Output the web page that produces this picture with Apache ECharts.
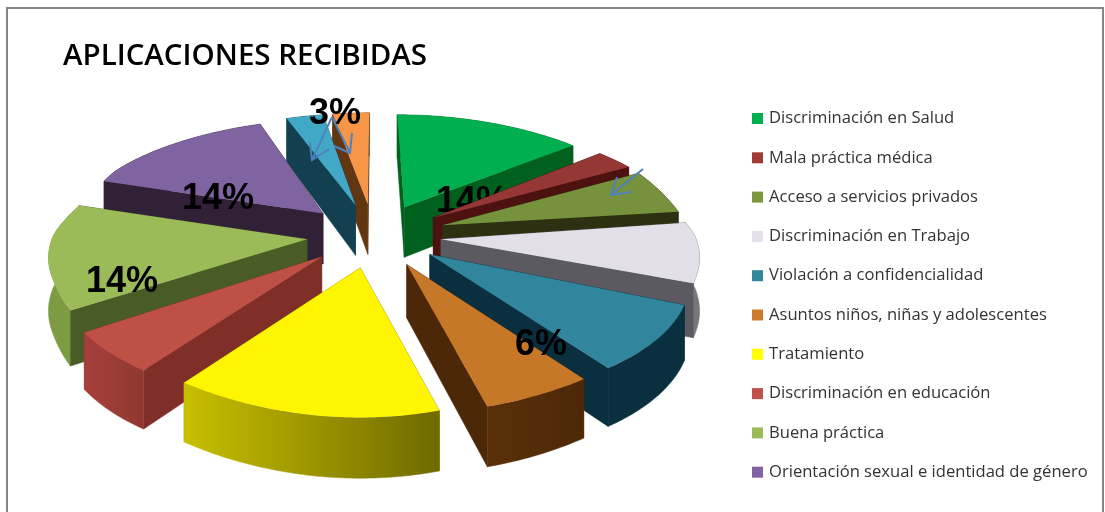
<!DOCTYPE html>
<html><head><meta charset="utf-8">
<style>html,body{margin:0;padding:0;background:#fff}#c{width:1105px;height:512px}</style>
<script src="https://cdn.jsdelivr.net/npm/echarts@6/dist/echarts.min.js"></script>
</head><body><div id="c"></div>
<script>
const title = 'APLICACIONES RECIBIDAS';
const categories = ['Discriminación en Salud','Mala práctica médica','Acceso a servicios privados','Discriminación en Trabajo','Violación a confidencialidad','Asuntos niños, niñas y adolescentes','Tratamiento','Discriminación en educación','Buena práctica','Orientación sexual e identidad de género','Otros A','Otros B'];
const legendNames = categories.slice(0, 10);
const values = [5,1,2,3,3,2.3,5.7,2,5,5,1,1];
const topColors = ['#00B050','#953735','#76923C','#E2DFE8','#31859C','#C77728','#FFF500','#BE5046','#9BBB59','#8064A2','#41A9C6','#F79646'];
const legendColors = ['#00B050','#A23B38','#7D973E','#E6E0EC','#31859C','#CC7A2B','#FFFF00','#C0504D','#9BBB59','#8064A2','#41A9C6','#F79646'];
const wallColors = ['#00601E','#4D1210','#2D3112','#5B5A60','#0A303F','#4D2808','#8A8500','#7F2F28','#4A5C26','#312136','#124050','#623610'];
const outerLeft = ['#00601E','#4D1210','#2D3112','#7A7A80','#0A303F','#5A3008','#C8C000','#A6403C','#7C9B42','#312136','#124050','#623610'];
const outerRight = ['#00601E','#4D1210','#2D3112','#75757B','#0A303F','#4D2808','#6F6A00','#8F3830','#7C9B42','#312136','#124050','#623610'];
// label anchors: slice index -> screen position
const labelSlices = [0,5,8,9,10];
const labelAnchors = {0:[472,202],5:[541,345],8:[122,282],9:[218,199],10:[335,114]};

const CX=374, CY=236.5, RX=258, RY=118, K=0.16, EXPLODE=0.26;
const total = values.reduce((a,b)=>a+b,0);
const rad = d=>d*Math.PI/180;
function project(u,v,down,isApex){
  const s=1/(1-K*v);
  let sx=1+.11*v-.03*v*v-(v>0?.02*v*v*v:0);
  let c=0;
  if(v>.25){const t=Math.min(1,(v-.25)/.3),ramp=t*t*(3-2*t);c=8*ramp*Math.sin(Math.PI*(v-.25)/.85);}
  if(!isApex){
    sx-=.012*Math.exp(-Math.pow((v+.1)/.35,2));
    if(v<0&&v>-.6)c=5*Math.sin(Math.PI*(v+.6)/.6);
  }
  return [CX+RX*u*sx, CY+RY*v*s+c+(down?52+7*v:0)];
}
function wall(a,b,fill){
  return {type:'polygon',shape:{points:[...a.map(p=>project(p[0],p[1],false,p[2])),...b.slice().reverse().map(p=>project(p[0],p[1],true,p[2]))]},style:{fill:fill,stroke:fill,lineWidth:.5}};
}
function renderSlice(params,api){
  const i=api.value(2), a0=api.value(0), a1=api.value(1), mid=(a0+a1)/2;
  const ox=EXPLODE*Math.sin(rad(mid)), oy=-EXPLODE*Math.cos(rad(mid));
  const arc=[];
  for(let d=a0;d<a1;d+=1){arc.push([ox+Math.sin(rad(d)),oy-Math.cos(rad(d))]);}
  arc.push([ox+Math.sin(rad(a1)),oy-Math.cos(rad(a1))]);
  const back=oy<0?1.1:1;
  const apex=[ox*back,oy*back,true], first=arc[0], last=arc[arc.length-1];
  const meanV=ps=>ps.reduce((s,p)=>s+p[1],0)/ps.length;
  const faces=[
    {v:meanV(arc),el:wall(arc,arc,new echarts.graphic.LinearGradient(0,0,1,0,[{offset:0,color:outerLeft[i]},{offset:1,color:outerRight[i]}]))},
    {v:(apex[1]+first[1])/2,el:wall([apex,first],[apex,first],wallColors[i])},
    {v:(apex[1]+last[1])/2,el:wall([apex,last],[apex,last],wallColors[i])}
  ].sort((p,q)=>p.v-q.v);
  const children=faces.map((f,n)=>{f.el.z2=n;return f.el;});
  children.push({type:'polygon',z2:5,shape:{points:[apex,...arc].map(p=>project(p[0],p[1],false,p[2]))},style:{fill:topColors[i]}});
  if(labelSlices.includes(i)){
    const at=labelAnchors[i];
    children.push({type:'text',z2:6,style:{text:Math.round(values[i]/total*100)+'%',x:at[0],y:at[1],align:'center',verticalAlign:'middle',font:'bold 36px "Liberation Sans"',fill:'#000'}});
  }
  return {type:'group',children:children};
}
let acc=0;
const slices=values.map((v,i)=>{const s=acc/total*360;acc+=v;const e=acc/total*360;
  const m=(s+e)/2;const depth=-Math.cos(rad(m));return {i,s,e,depth};});
const order=slices.slice().sort((a,b)=>a.depth-b.depth).map(x=>x.i);
const series=slices.map(sl=>({
  type:'custom',name:categories[sl.i],coordinateSystem:'none',renderItem:renderSlice,
  z:2+order.indexOf(sl.i),silent:true,animation:false,
  itemStyle:{color:legendColors[sl.i]},
  data:[[sl.s,sl.e,sl.i]]
}));
function arrow(pts,barbs){
  return [{type:'polyline',z:50,silent:true,shape:{points:pts},style:{stroke:'#4F81BD',lineWidth:2,fill:null}},
          {type:'polyline',z:50,silent:true,shape:{points:barbs},style:{stroke:'#4F81BD',lineWidth:2,fill:null}}];
}
const chart=echarts.init(document.getElementById('c'),null,{renderer:'canvas'});
chart.setOption({
  animation:false,
  backgroundColor:'#fff',
  title:{text:title,left:63,top:42,padding:0,textStyle:{fontFamily:'Open Sans',fontWeight:600,fontSize:29.5,color:'#000'}},
  legend:{orient:'vertical',left:747,top:105,data:legendNames,icon:'rect',itemWidth:11,itemHeight:11,itemGap:22.3,selectedMode:false,
    textStyle:{fontFamily:'Open Sans',fontSize:16.6,color:'#333',lineHeight:16,padding:[0,0,0,1]}},
  series:series,
  graphic:[
    {type:'rect',z:60,silent:true,shape:{x:7,y:8,width:1096,height:700},style:{fill:null,stroke:'#868686',lineWidth:2}},
    ...arrow([[643,169],[611,195]],[[617,177],[611,195],[631,192]]),
    ...arrow([[332,117],[312,160]],[[310,142],[312,160],[329,149]]),
    ...arrow([[332,117],[350,153]],[[352,133],[350,153],[334,146]])
  ]
});
</script></body></html>
